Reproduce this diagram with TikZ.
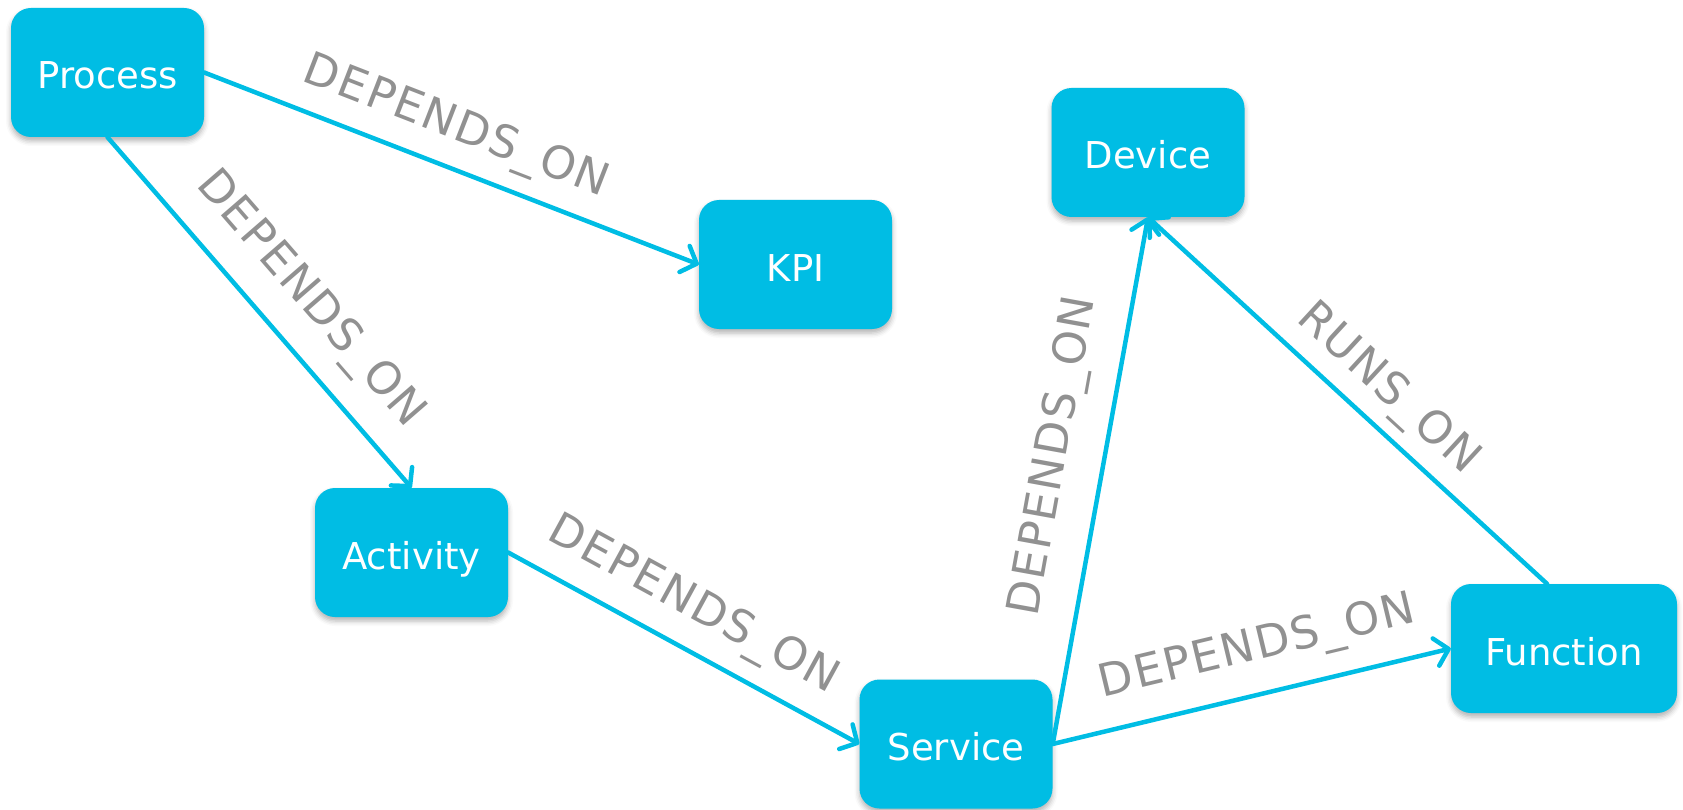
\documentclass[tikz,border=0pt]{standalone}
\usepackage{fontspec}
\setmainfont{DejaVu Sans}
\newfontfamily\relfont[LetterSpace=4]{DejaVu Sans}
\usetikzlibrary{positioning,arrows.meta,shadows.blur}
\definecolor{NodeCyan}{RGB}{0,189,228}
\definecolor{RelGray}{RGB}{145,145,145}
\tikzset{
  box/.style={rectangle,rounded corners=20pt,fill=NodeCyan,text=white,
    minimum width=193pt,minimum height=129pt,inner sep=0pt,
    text height=33pt,text depth=0pt,
    font=\fontsize{37}{44}\selectfont,
    blur shadow={shadow xshift=0pt,shadow yshift=-4pt,shadow blur radius=5pt,shadow opacity=30}},
  rel/.style={draw=NodeCyan,line width=4.5pt,line cap=round,
    -{Straight Barb[length=13pt,width=28pt,round]}},
  lbl/.style={sloped,inner sep=0pt,text=RelGray,font=\relfont\fontsize{45}{54}\selectfont},
}
\begin{document}
\begin{tikzpicture}[x=1pt,y=-1pt]
  \useasboundingbox (0,0) rectangle (1683,810);

  \node[box] (process)  at (107.5,72.5)  {Process};
  \node[box] (kpi)      at (795.5,264.5) {KPI};
  \node[box] (device)   at (1148,152.5)  {Device};
  \node[box] (activity) at (411.5,552.5) {Activity};
  \node[box] (service)  at (956,744)     {Service};
  \node[box,minimum width=226pt] (function) at (1564,648.5) {Function};

  \draw[rel] (process.east) -- node[lbl,pos=0.48,above=15pt] {DEPENDS\_ON} (kpi.west);
  \draw[rel] (process.south) -- node[lbl,pos=0.55,above=22pt] {DEPENDS\_ON} (activity.north);
  \draw[rel] (activity.east) -- node[lbl,pos=0.47,above=17pt] {DEPENDS\_ON} (service.west);
  \draw[rel] (service.east) -- node[lbl,pos=0.53,above=25pt] {DEPENDS\_ON} (device.south);
  \draw[rel] (service.east) -- node[lbl,pos=0.54,above=21pt] {DEPENDS\_ON} (function.west);
  \draw[rel] ([xshift=-17pt]function.north) -- node[lbl,pos=0.46,above=11pt] {RUNS\_ON} (device.south);
\end{tikzpicture}
\end{document}
